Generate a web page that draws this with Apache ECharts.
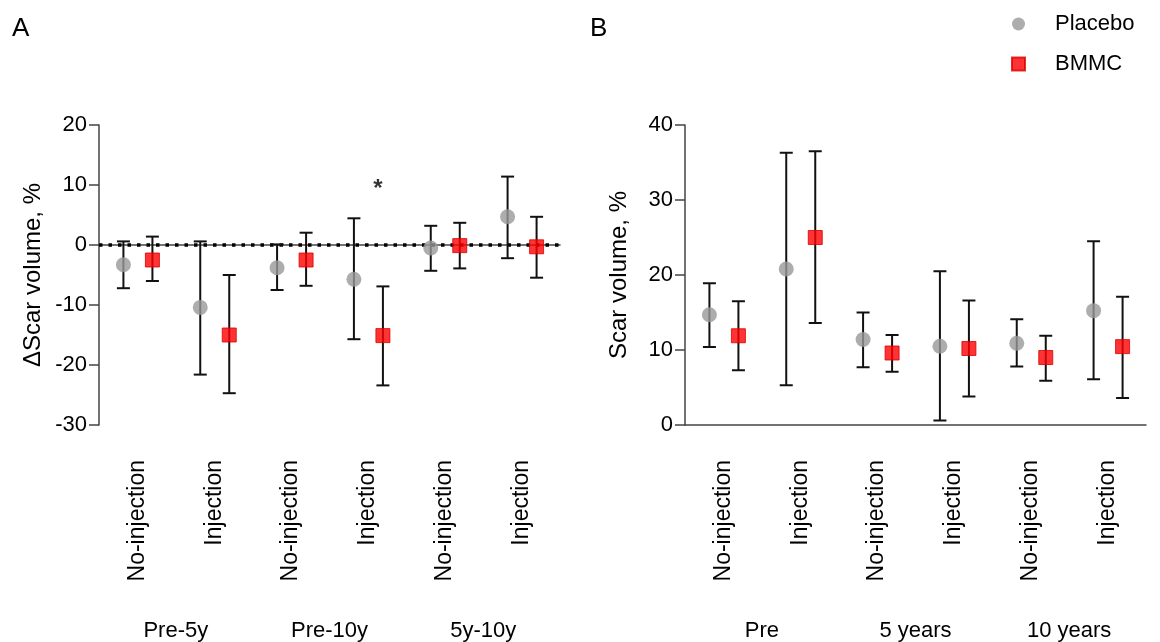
<!DOCTYPE html>
<html>
<head>
<meta charset="utf-8">
<script src="https://cdn.jsdelivr.net/npm/echarts@6/dist/echarts.min.js"></script>
<style>
  html, body { margin: 0; padding: 0; background: #fff; }
  #chart { width: 1160px; height: 642px; }
</style>
</head>
<body>
<div id="chart"></div>
<script>
// categories
var cats = ['No-injection', 'Injection', 'No-injection', 'Injection', 'No-injection', 'Injection'];
var groupsA = ['Pre-5y', 'Pre-10y', '5y-10y'];
var groupsB = ['Pre', '5 years', '10 years'];

// panel A: change in scar volume, %
var aPlaceboMean = [-3.3, -10.4, -3.8, -5.7, -0.5, 4.7];
var aPlaceboLow  = [-7.2, -21.6, -7.5, -15.7, -4.3, -2.2];
var aPlaceboHigh = [0.6, 0.6, 0.1, 4.45, 3.2, 11.4];
var aBmmcMean = [-2.5, -15.0, -2.5, -15.1, -0.1, -0.3];
var aBmmcLow  = [-6.0, -24.7, -6.8, -23.4, -3.9, -5.45];
var aBmmcHigh = [1.4, -5.0, 2.05, -6.9, 3.7, 4.7];

// panel B: scar volume, %
var bPlaceboMean = [14.7, 20.8, 11.4, 10.5, 10.9, 15.25];
var bPlaceboLow  = [10.4, 5.3, 7.7, 0.6, 7.8, 6.1];
var bPlaceboHigh = [18.9, 36.3, 15.0, 20.5, 14.1, 24.5];
var bBmmcMean = [11.9, 25.0, 9.6, 10.2, 9.0, 10.45];
var bBmmcLow  = [7.3, 13.6, 7.1, 3.8, 5.9, 3.6];
var bBmmcHigh = [16.5, 36.5, 12.0, 16.6, 11.9, 17.1];

// significance mark (category index, value)
var starA = [[3, 10]];

var FONT = 'Liberation Sans, Arial, sans-serif';
var PLACEBO_DX = -14, BMMC_DX = 15;

function pairs(mean) {
    return mean.map(function (v, i) { return [i, v]; });
}
function bars(low, high) {
    return low.map(function (v, i) { return [i, v, high[i]]; });
}

// error bar with caps, shifted sideways in pixels
function errorBar(dx) {
    return function (params, api) {
        var top = api.coord([api.value(0), api.value(2)]);
        var bot = api.coord([api.value(0), api.value(1)]);
        var x = top[0] + dx, cap = 6.5;
        var style = { stroke: '#111', lineWidth: 2 };
        return {
            type: 'group',
            children: [
                { type: 'line', shape: { x1: x, y1: top[1], x2: x, y2: bot[1] }, style: style },
                { type: 'line', shape: { x1: x - cap, y1: top[1], x2: x + cap, y2: top[1] }, style: style },
                { type: 'line', shape: { x1: x - cap, y1: bot[1], x2: x + cap, y2: bot[1] }, style: style }
            ]
        };
    };
}

var catAxis = function (grid) {
    return {
        type: 'category', gridIndex: grid, data: cats, boundaryGap: true,
        axisLine: { lineStyle: { color: '#444', width: 1.5 } },
        axisTick: { alignWithLabel: true, length: 10, lineStyle: { color: '#444', width: 1.5 } },
        axisLabel: { rotate: 90, interval: 0, margin: 35, fontSize: 23, color: '#000', fontFamily: FONT },
        splitLine: { show: false }
    };
};
var groupAxis = function (grid, data) {
    return {
        type: 'category', gridIndex: grid, data: data, position: 'bottom',
        axisLine: { show: false }, axisTick: { show: false },
        axisLabel: { margin: 195, fontSize: 22, color: '#000', fontFamily: FONT },
        splitLine: { show: false }
    };
};
var valAxis = function (grid, min, max, name) {
    return {
        type: 'value', gridIndex: grid, min: min, max: max, interval: 10,
        name: name, nameLocation: 'middle', nameGap: 54, nameRotate: 90,
        nameTextStyle: { fontSize: 24, color: '#000', fontFamily: FONT },
        axisLine: { show: true, lineStyle: { color: '#444', width: 1.5 } },
        axisTick: { show: true, length: 10, lineStyle: { color: '#444', width: 1.5 } },
        axisLabel: { fontSize: 22, color: '#000', margin: 12, fontFamily: FONT },
        splitLine: { show: false }
    };
};

var placeboStyle = { color: '#999999' };
var bmmcStyle = { color: '#ff0000', borderColor: '#d80000', borderWidth: 1 };

var chart = echarts.init(document.getElementById('chart'));
var option = {
    animation: false,
    backgroundColor: '#fff',
    textStyle: { fontFamily: FONT },
    graphic: [
        { type: 'text', left: 12, top: 16, style: { text: 'A', fontSize: 26, fill: '#000', fontFamily: FONT } },
        { type: 'text', left: 590, top: 16, style: { text: 'B', fontSize: 26, fill: '#000', fontFamily: FONT } }
    ],
    legend: {
        orient: 'vertical', left: 1006, top: 8, itemGap: 18,
        itemWidth: 13, itemHeight: 13,
        textStyle: { fontSize: 22, color: '#000', fontFamily: FONT, padding: [0, 0, 0, 25] },
        data: [{ name: 'Placebo', icon: 'circle' }, { name: 'BMMC', icon: 'rect' }]
    },
    grid: [
        { left: 99, top: 125, width: 461, height: 300 },
        { left: 685, top: 125, width: 461, height: 300 }
    ],
    xAxis: [catAxis(0), catAxis(1), groupAxis(0, groupsA), groupAxis(1, groupsB)],
    yAxis: [valAxis(0, -30, 20, 'ΔScar volume, %'), valAxis(1, 0, 40, 'Scar volume, %')],
    series: [
        // panel A
        { type: 'custom', xAxisIndex: 0, yAxisIndex: 0, z: 2, silent: true,
          renderItem: errorBar(PLACEBO_DX), data: bars(aPlaceboLow, aPlaceboHigh),
          markLine: {
              z: 1, silent: true, symbol: 'none', label: { show: false },
              lineStyle: { color: '#000', type: [3.5, 6], width: 3.5, cap: 'butt' },
              emphasis: { disabled: true },
              data: [{ yAxis: 0 }]
          } },
        { type: 'custom', xAxisIndex: 0, yAxisIndex: 0, z: 2, silent: true,
          renderItem: errorBar(BMMC_DX), data: bars(aBmmcLow, aBmmcHigh) },
        { name: 'Placebo', type: 'scatter', xAxisIndex: 0, yAxisIndex: 0, z: 3,
          symbol: 'circle', symbolSize: 15, symbolOffset: [PLACEBO_DX, 0],
          itemStyle: placeboStyle, data: pairs(aPlaceboMean) },
        { name: 'BMMC', type: 'scatter', xAxisIndex: 0, yAxisIndex: 0, z: 3,
          symbol: 'rect', symbolSize: 14, symbolOffset: [BMMC_DX, 0],
          itemStyle: bmmcStyle, data: pairs(aBmmcMean) },
        { type: 'scatter', xAxisIndex: 0, yAxisIndex: 0, z: 3, silent: true,
          symbolSize: 0, data: starA,
          label: { show: true, position: 'inside', formatter: '*', fontSize: 24, fontWeight: 'bold',
                   color: '#000', offset: [10, 4], fontFamily: FONT } },
        // panel B
        { type: 'custom', xAxisIndex: 1, yAxisIndex: 1, z: 2, silent: true,
          renderItem: errorBar(PLACEBO_DX), data: bars(bPlaceboLow, bPlaceboHigh) },
        { type: 'custom', xAxisIndex: 1, yAxisIndex: 1, z: 2, silent: true,
          renderItem: errorBar(BMMC_DX), data: bars(bBmmcLow, bBmmcHigh) },
        { name: 'Placebo', type: 'scatter', xAxisIndex: 1, yAxisIndex: 1, z: 3,
          symbol: 'circle', symbolSize: 15, symbolOffset: [PLACEBO_DX, 0],
          itemStyle: placeboStyle, data: pairs(bPlaceboMean) },
        { name: 'BMMC', type: 'scatter', xAxisIndex: 1, yAxisIndex: 1, z: 3,
          symbol: 'rect', symbolSize: 14, symbolOffset: [BMMC_DX, 0],
          itemStyle: bmmcStyle, data: pairs(bBmmcMean) }
    ]
};
chart.setOption(option);
</script>
</body>
</html>
